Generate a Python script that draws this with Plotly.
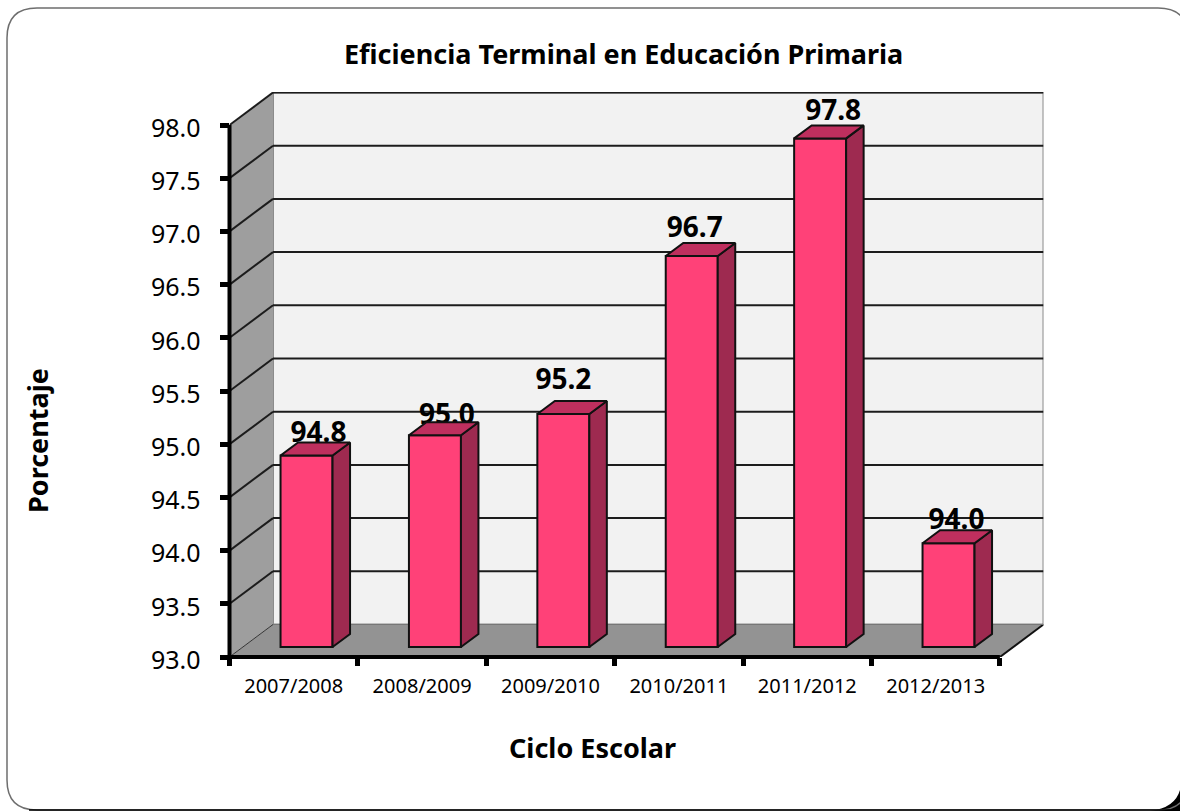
import plotly.graph_objects as go

# ---- data ----
categories = ["2007/2008", "2008/2009", "2009/2010", "2010/2011", "2011/2012", "2012/2013"]
values = [94.80, 94.99, 95.19, 96.675, 97.78, 93.975]
y_ticks = [93.0, 93.5, 94.0, 94.5, 95.0, 95.5, 96.0, 96.5, 97.0, 97.5, 98.0]
title_text = "Eficiencia Terminal en Educación Primaria"
x_title = "Ciclo Escolar"
y_title = "Porcentaje"

# ---- layout geometry (pixels in the page) ----
W, H = 1180, 811
AX_L, AX_R, AX_B, AX_T = 229.5, 1043.5, 657.0, 92.0
PX_U, PX_V = 128.4, 106.4          # pixels per category / per value unit
DEPTH_U, DEPTH_V = 43.5 / PX_U, 32.5 / PX_V   # wall depth in data units
BAR_W = 52 / PX_U
BAR_SHIFT_U, BAR_SHIFT_V = 0.100, 0.094       # bar's position inside the depth
BAR_DU, BAR_DV = 17.5 / PX_U, 13 / PX_V       # bar's own depth
LABEL_NUDGE_X = [12, 12, 0, 3, 13, 8]         # label offset from bar centre, px
LABEL_NUDGE_Y = [20.5, 18.5, 31.5, 25.5, 25.5, 21.5]  # label height above bar front top, px
Y0 = y_ticks[0]
Y_TOP = y_ticks[-1]
N = len(categories)

FRONT, SIDE, TOP = "#FF4178", "#9E2A50", "#BF2F5E"
WALL, SIDEWALL, FLOOR = "#F2F2F2", "#9E9E9E", "#939393"
GRID = "#1c1c1c"
FONT = "Noto Sans"

centers = [i + 0.5 for i in range(N)]
xr = [0, (AX_R - AX_L) / PX_U]
yr = [Y0, Y0 + (AX_B - AX_T) / PX_V]

fig = go.Figure()

# front faces
fig.add_trace(go.Bar(
    x=[c + BAR_SHIFT_U for c in centers],
    y=[v - Y0 for v in values],
    base=Y0 + BAR_SHIFT_V,
    width=BAR_W,
    marker=dict(color=FRONT, line=dict(color="#111111", width=2)),
    hoverinfo="skip",
    showlegend=False,
))

# data labels (sit behind the bars' top faces)
fig.add_trace(go.Scatter(
    x=[c + BAR_SHIFT_U + dx / PX_U for c, dx in zip(centers, LABEL_NUDGE_X)],
    y=[v + BAR_SHIFT_V + dy / PX_V for v, dy in zip(values, LABEL_NUDGE_Y)],
    mode="text",
    text=[f"{v:.1f}" for v in values],
    textposition="middle center",
    textfont=dict(family=FONT, size=28, color="black", weight="bold"),
    hoverinfo="skip",
    showlegend=False,
    cliponaxis=False,
))

# side and top faces
for c, v in zip(centers, values):
    l = c + BAR_SHIFT_U - BAR_W / 2
    r = c + BAR_SHIFT_U + BAR_W / 2
    b = Y0 + BAR_SHIFT_V
    t = v + BAR_SHIFT_V
    fig.add_trace(go.Scatter(
        x=[r, r + BAR_DU, r + BAR_DU, r, r],
        y=[b, b + BAR_DV, t + BAR_DV, t, b],
        mode="lines", fill="toself", fillcolor=SIDE,
        line=dict(color="#111111", width=2), hoverinfo="skip", showlegend=False,
    ))
    fig.add_trace(go.Scatter(
        x=[l, r, r + BAR_DU, l + BAR_DU, l],
        y=[t, t, t + BAR_DV, t + BAR_DV, t],
        mode="lines", fill="toself", fillcolor=TOP,
        line=dict(color="#111111", width=2), hoverinfo="skip", showlegend=False,
    ))


def poly(pts):
    return "M " + " L ".join(f"{x} {y}" for x, y in pts) + " Z"


shapes = []
wall_top = Y_TOP + DEPTH_V


# page pixels to paper fractions
def fx(p):
    return round(p / W, 5)


def fy(p):
    return round(1 - p / H, 5)


# rounded frame
L, T, R, B, RAD = 7, 8, 1188, 810, 30
frame = (f"M {fx(L + RAD)} {fy(T)} L {fx(R - RAD)} {fy(T)} "
         f"Q {fx(R)} {fy(T)} {fx(R)} {fy(T + RAD)} L {fx(R)} {fy(B - RAD)} "
         f"Q {fx(R)} {fy(B)} {fx(R - RAD)} {fy(B)} L {fx(L + RAD)} {fy(B)} "
         f"Q {fx(L)} {fy(B)} {fx(L)} {fy(B - RAD)} L {fx(L)} {fy(T + RAD)} "
         f"Q {fx(L)} {fy(T)} {fx(L + RAD)} {fy(T)} Z")
shapes.append(dict(type="path", xref="paper", yref="paper", layer="below",
                   path=f"M {fx(1150)} {fy(811)} Q {fx(1175)} {fy(808)} {fx(1180)} {fy(790)} L {fx(1180)} {fy(811)} Z",
                   fillcolor="black", line=dict(width=0)))
shapes.append(dict(type="path", xref="paper", yref="paper", layer="below", path=frame,
                   fillcolor="rgba(0,0,0,0)", line=dict(color="#6e6e6e", width=1.5)))
shapes.append(dict(type="line", xref="paper", yref="paper", layer="below",
                   x0=fx(L + RAD - 8), y0=fy(B), x1=fx(1170), y1=fy(B), line=dict(color="black", width=1.5)))

# back wall
shapes.append(dict(type="path", xref="x", yref="y", layer="below",
                   path=poly([(DEPTH_U, Y0 + DEPTH_V), (xr[1], Y0 + DEPTH_V), (xr[1], wall_top), (DEPTH_U, wall_top)]),
                   fillcolor=WALL, line=dict(color="#8c8c8c", width=2)))
# side wall
shapes.append(dict(type="path", xref="x", yref="y", layer="below",
                   path=poly([(0, Y0), (DEPTH_U, Y0 + DEPTH_V), (DEPTH_U, wall_top), (0, Y_TOP)]),
                   fillcolor=SIDEWALL, line=dict(width=0)))
# floor
shapes.append(dict(type="path", xref="x", yref="y", layer="below",
                   path=poly([(0, Y0), (N, Y0), (xr[1], Y0 + DEPTH_V), (DEPTH_U, Y0 + DEPTH_V)]),
                   fillcolor=FLOOR, line=dict(width=0)))
# grid lines on back and side walls
for v in y_ticks:
    if v > Y0:
        shapes.append(dict(type="line", xref="x", yref="y", layer="below",
                           x0=0, y0=v, x1=DEPTH_U, y1=v + DEPTH_V, line=dict(color=GRID, width=2)))
        shapes.append(dict(type="line", xref="x", yref="y", layer="below",
                           x0=DEPTH_U, y0=v + DEPTH_V, x1=xr[1], y1=v + DEPTH_V, line=dict(color=GRID, width=2)))
# thin floor edges
shapes.append(dict(type="line", xref="x", yref="y", layer="below", x0=0, y0=Y0, x1=DEPTH_U, y1=Y0 + DEPTH_V,
                   line=dict(color="#333333", width=1)))
shapes.append(dict(type="line", xref="x", yref="y", layer="below", x0=N, y0=Y0, x1=xr[1], y1=Y0 + DEPTH_V,
                   line=dict(color="#111111", width=2)))
shapes.append(dict(type="line", xref="x", yref="y", layer="below", x0=DEPTH_U, y0=Y0 + DEPTH_V, x1=xr[1], y1=Y0 + DEPTH_V,
                   line=dict(color="#777777", width=1)))
# front axis lines, in paper coordinates so that they are not clipped by the plot area
shapes.append(dict(type="line", xref="paper", yref="paper", x0=fx(AX_L), y0=fy(AX_B),
                   x1=fx(AX_L), y1=fy(AX_B - (Y_TOP - Y0) * PX_V), line=dict(color="black", width=4)))
shapes.append(dict(type="line", xref="paper", yref="paper", x0=fx(AX_L - 2), y0=fy(AX_B),
                   x1=fx(AX_L + N * PX_U), y1=fy(AX_B), line=dict(color="black", width=4)))

annotations = [
    dict(text=f"<b>{title_text}</b>", x=fx(624), y=fy(54), xref="paper", yref="paper", showarrow=False,
         xanchor="center", yanchor="middle", font=dict(family=FONT, size=27, color="black")),
    dict(text=f"<b>{x_title}</b>", x=fx(593), y=fy(747), xref="paper", yref="paper", showarrow=False,
         xanchor="center", yanchor="middle", font=dict(family=FONT, size=27, color="black")),
    dict(text=f"<b>{y_title}</b>", x=fx(38), y=fy(440), xref="paper", yref="paper", showarrow=False,
         textangle=-90, xanchor="center", yanchor="middle", font=dict(family=FONT, size=27, color="black")),
]

fig.update_layout(
    width=W, height=H, autosize=False,
    margin=dict(l=0, r=0, t=0, b=0),
    paper_bgcolor="white", plot_bgcolor="rgba(0,0,0,0)",
    showlegend=False, shapes=shapes, annotations=annotations,
    xaxis=dict(
        domain=[AX_L / W, AX_R / W], range=xr, automargin=False, showgrid=False, zeroline=False, showline=False,
        tickmode="array", tickvals=centers, ticktext=categories,
        ticks="outside", ticklen=11, tickwidth=1, tickcolor="rgba(0,0,0,0)",
        tickfont=dict(family=FONT, size=20, color="black"),
        minor=dict(tickmode="array", tickvals=list(range(N + 1)), ticks="outside", ticklen=8, tickwidth=5,
                   tickcolor="black", showgrid=False),
    ),
    yaxis=dict(
        domain=[1 - AX_B / H, 1 - AX_T / H], range=yr, automargin=False, showgrid=False, zeroline=False, showline=False,
        tickmode="array", tickvals=y_ticks, ticktext=[f"{v:.1f}" for v in y_ticks],
        ticks="outside", ticklen=9, tickwidth=5, tickcolor="black",
        ticklabelstandoff=14, ticklabelshift=3,
        tickfont=dict(family=FONT, size=25, color="black"),
    ),
)

fig.write_html("out.html", post_script="document.body.style.margin='0';document.body.style.overflow='hidden';",
               config=dict(displayModeBar=False))
